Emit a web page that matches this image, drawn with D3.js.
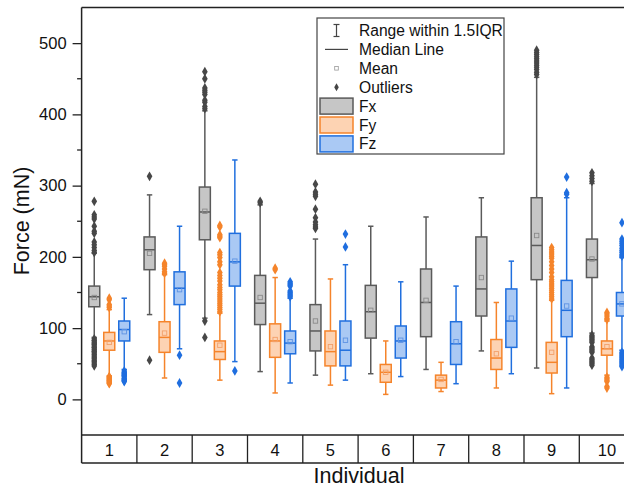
<!DOCTYPE html>
<html>
<head>
<meta charset="utf-8">
<script src="https://cdn.jsdelivr.net/npm/d3@7"></script>
<style>
  body { margin: 0; background: #fff; }
  svg { display: block; font-family: "Liberation Sans", Arial, sans-serif; }
</style>
</head>
<body>
<div id="chart"></div>
<script>
// categories
var individuals = ['1', '2', '3', '4', '5', '6', '7', '8', '9', '10'];
var series = ['Fx', 'Fy', 'Fz'];

// per individual: [whiskerLow, q1, median, q3, whiskerHigh, mean]
var fxStats = [
  [87, 130, 144, 159, 205, 143],
  [119, 182, 210, 228, 287, 205],
  [114, 224, 263, 298, 405, 264],
  [39, 105, 135, 174, 273, 143],
  [34, 68, 96, 133, 225, 110],
  [36, 86, 123, 160, 243, 125],
  [42, 88, 136, 183, 256, 139],
  [68, 117, 155, 228, 283, 171],
  [44, 168, 216, 283, 452, 230],
  [93, 171, 196, 225, 303, 197]
];
var fyStats = [
  [33, 69, 82, 94, 126, 80],
  [30, 66, 87, 109, 175, 93],
  [27, 56, 67, 82, 121, 76],
  [9, 59, 82, 106, 171, 84],
  [20, 47, 67, 96, 169, 74],
  [7, 24, 38, 49, 82, 38],
  [11, 16, 27, 34, 52, 28],
  [16, 42, 58, 84, 136, 64],
  [8, 37, 52, 80, 139, 66],
  [34, 62, 71, 82, 110, 74]
];
var fzStats = [
  [42, 82, 98, 110, 142, 95],
  [71, 133, 156, 179, 243, 154],
  [53, 159, 193, 233, 336, 194],
  [23, 64, 79, 96, 142, 81],
  [27, 47, 69, 110, 189, 83],
  [32, 58, 82, 103, 165, 83],
  [22, 49, 78, 109, 159, 81],
  [36, 73, 110, 155, 194, 114],
  [16, 88, 125, 167, 283, 131],
  [69, 117, 134, 150, 199, 134]
];

// outliers per individual
var fxOutliers = [
  [278, 259, 256, 253, 243, 236, 233, 221, 217, 213, 209, 206,
   85, 83, 82, 80, 78, 77, 75, 73, 72, 70, 68, 67, 65, 63, 61, 59, 57, 55, 53, 51, 49, 47],
  [313, 55],
  [460, 450, 437, 434, 431, 428, 420, 417, 411, 408, 110, 87],
  [278, 276],
  [302, 291, 288, 285, 267, 255, 249, 245, 242, 240],
  [],
  [],
  [],
  [490, 487, 484, 481, 478, 475, 472, 469, 466, 463, 459, 456],
  [318, 314, 310, 306, 90, 88, 86, 84, 82, 80, 74, 72, 70, 68, 66, 58, 56, 54, 52, 50, 48]
];
var fyOutliers = [
  [142, 140, 133, 131, 129, 32, 31, 30, 29, 28, 27, 26, 25, 24, 23, 22],
  [191, 189, 187, 183, 179, 177],
  [244, 242, 231, 229, 227, 206, 203, 199, 193, 189, 178, 174, 170, 166, 161, 157, 154,
   150, 147, 144, 141, 138, 135, 132, 129, 126, 123],
  [184, 182],
  [],
  [],
  [],
  [],
  [213, 210, 207, 204, 201, 198, 193, 188, 183, 178, 172, 168, 165, 162, 159, 156, 153,
   150, 147, 144, 141],
  [122, 120, 117, 114, 112, 31, 29, 27, 25, 18, 16]
];
var fzOutliers = [
  [40, 38, 37, 36, 35, 34, 33, 32, 30, 29, 28, 27, 26, 25],
  [62, 23],
  [40],
  [165, 163, 161, 159, 152, 150, 148, 146, 144],
  [232, 214],
  [],
  [],
  [],
  [312, 290, 288],
  [248, 225, 222, 219, 216, 212, 209, 206, 203, 201,
   66, 64, 62, 60, 58, 56, 54, 52, 50, 48, 46]
];

var yTicks = [0, 100, 200, 300, 400, 500];
var yMinorTicks = [50, 150, 250, 350, 450];

var stats = { Fx: fxStats, Fy: fyStats, Fz: fzStats };
var outliers = { Fx: fxOutliers, Fy: fyOutliers, Fz: fzOutliers };
var styles = {
  Fx: { fill: '#c6c6c6', stroke: '#5a5a5a', dot: '#474747', mean: '#8a8a8a' },
  Fy: { fill: '#fdd3b3', stroke: '#f5842b', dot: '#f5842b', mean: '#f3a06a' },
  Fz: { fill: '#aac9f4', stroke: '#206fde', dot: '#1f6edf', mean: '#5e93e3' }
};

var width = 624, height = 487;
var plotLeft = 81.6, plotTop = 7.5, plotBottom = 435, panelBottom = 463;
var bandW = 55.3;
var boxW = 11;

var svg = d3.select('#chart').append('svg')
  .attr('width', width)
  .attr('height', height);

var x = d3.scaleBand()
  .domain(individuals)
  .range([plotLeft, plotLeft + bandW * individuals.length])
  .padding(0);

var offset = d3.scalePoint()
  .domain(series)
  .range([-15, 15]);

var y = d3.scaleLinear()
  .domain([-50, 550])
  .range([plotBottom, plotTop]);

// boxes
var plot = svg.append('g');
series.forEach(function (s) {
  var st = styles[s];
  individuals.forEach(function (ind, i) {
    var d = stats[s][i];
    var cx = x(ind) + x.bandwidth() / 2 + offset(s);
    var g = plot.append('g');

    // whisker lines
    g.append('line')
      .attr('x1', cx).attr('x2', cx)
      .attr('y1', y(d[4])).attr('y2', y(d[3]))
      .attr('stroke', st.stroke).attr('stroke-width', 1.5);
    g.append('line')
      .attr('x1', cx).attr('x2', cx)
      .attr('y1', y(d[1])).attr('y2', y(d[0]))
      .attr('stroke', st.stroke).attr('stroke-width', 1.5);
    // caps
    [d[0], d[4]].forEach(function (v) {
      g.append('line')
        .attr('x1', cx - 2.7).attr('x2', cx + 2.7)
        .attr('y1', y(v)).attr('y2', y(v))
        .attr('stroke', st.stroke).attr('stroke-width', 1.5);
    });

    // outliers
    g.selectAll('path.out')
      .data(outliers[s][i])
      .enter()
      .append('path')
      .attr('class', 'out')
      .attr('d', d3.symbol().type(d3.symbolDiamond).size(28))
      .attr('transform', function (v) {
        return 'translate(' + cx + ',' + y(v) + ')';
      })
      .attr('fill', st.dot);

    // box
    g.append('rect')
      .attr('x', cx - boxW / 2)
      .attr('y', y(d[3]))
      .attr('width', boxW)
      .attr('height', y(d[1]) - y(d[3]))
      .attr('fill', st.fill)
      .attr('stroke', st.stroke)
      .attr('stroke-width', 1.5);

    // median
    g.append('line')
      .attr('x1', cx - boxW / 2).attr('x2', cx + boxW / 2)
      .attr('y1', y(d[2])).attr('y2', y(d[2]))
      .attr('stroke', st.stroke).attr('stroke-width', 1.5);

    // mean
    g.append('rect')
      .attr('x', cx - 2.2)
      .attr('y', y(d[5]) - 2.2)
      .attr('width', 4.4)
      .attr('height', 4.4)
      .attr('fill', 'none')
      .attr('stroke', st.mean)
      .attr('stroke-width', 0.9);
  });
});

// frame
svg.append('line')
  .attr('x1', plotLeft).attr('x2', width)
  .attr('y1', plotTop).attr('y2', plotTop)
  .attr('stroke', '#222').attr('stroke-width', 1.5);
svg.append('line')
  .attr('x1', plotLeft).attr('x2', width)
  .attr('y1', plotBottom).attr('y2', plotBottom)
  .attr('stroke', '#222').attr('stroke-width', 1.5);
svg.append('line')
  .attr('x1', plotLeft).attr('x2', width)
  .attr('y1', panelBottom).attr('y2', panelBottom)
  .attr('stroke', '#222').attr('stroke-width', 1.5);

// y axis
var yAxis = svg.append('g')
  .attr('transform', 'translate(' + plotLeft + ',0)')
  .call(d3.axisLeft(y).tickValues(yTicks).tickSize(9).tickSizeOuter(0).tickPadding(6));
yAxis.select('.domain').remove();
yAxis.selectAll('.tick line').attr('stroke', '#222').attr('stroke-width', 1.3);
yAxis.selectAll('.tick text')
  .attr('font-size', 16.5)
  .attr('font-family', '"Liberation Sans", Arial, sans-serif')
  .attr('fill', '#111');

svg.append('g')
  .selectAll('line')
  .data(yMinorTicks)
  .enter()
  .append('line')
  .attr('x1', plotLeft - 4.5).attr('x2', plotLeft)
  .attr('y1', function (v) { return y(v); })
  .attr('y2', function (v) { return y(v); })
  .attr('stroke', '#222').attr('stroke-width', 1.3);

svg.append('line')
  .attr('x1', plotLeft).attr('x2', plotLeft)
  .attr('y1', plotTop).attr('y2', panelBottom)
  .attr('stroke', '#222').attr('stroke-width', 1.5);

// category panel
var panel = svg.append('g');
panel.selectAll('line')
  .data(individuals.slice(1))
  .enter()
  .append('line')
  .attr('x1', function (d) { return x(d); })
  .attr('x2', function (d) { return x(d); })
  .attr('y1', plotBottom).attr('y2', panelBottom)
  .attr('stroke', '#222').attr('stroke-width', 1.3);
panel.selectAll('text')
  .data(individuals)
  .enter()
  .append('text')
  .attr('x', function (d) { return x(d) + x.bandwidth() / 2; })
  .attr('y', 455.5)
  .attr('text-anchor', 'middle')
  .attr('font-size', 16.5)
  .attr('fill', '#111')
  .text(function (d) { return d; });

// axis titles
svg.append('text')
  .attr('transform', 'translate(29,221) rotate(-90)')
  .attr('text-anchor', 'middle')
  .attr('font-size', 21.5)
  .attr('fill', '#111')
  .text('Force (mN)');
svg.append('text')
  .attr('x', 359)
  .attr('y', 483)
  .attr('text-anchor', 'middle')
  .attr('font-size', 21.5)
  .attr('fill', '#111')
  .text('Individual');

// legend
var lg = svg.append('g');
lg.append('rect')
  .attr('x', 317).attr('y', 18)
  .attr('width', 187).attr('height', 136)
  .attr('fill', '#fff')
  .attr('stroke', '#444').attr('stroke-width', 1.2);

var rowY = function (i) { return 30.5 + i * 18.9; };
var symX = 336.5, textX = 359;

// range symbol
lg.append('line').attr('x1', symX).attr('x2', symX)
  .attr('y1', rowY(0) - 6).attr('y2', rowY(0) + 6)
  .attr('stroke', '#444').attr('stroke-width', 1.2);
[-6, 6].forEach(function (dy) {
  lg.append('line').attr('x1', symX - 3).attr('x2', symX + 3)
    .attr('y1', rowY(0) + dy).attr('y2', rowY(0) + dy)
    .attr('stroke', '#444').attr('stroke-width', 1.2);
});
// median symbol
lg.append('line').attr('x1', 325).attr('x2', 348)
  .attr('y1', rowY(1)).attr('y2', rowY(1))
  .attr('stroke', '#444').attr('stroke-width', 1.2);
// mean symbol
lg.append('rect').attr('x', symX - 1.8).attr('y', rowY(2) - 1.8)
  .attr('width', 3.6).attr('height', 3.6)
  .attr('fill', 'none').attr('stroke', '#999').attr('stroke-width', 0.8);
// outlier symbol
lg.append('path')
  .attr('d', d3.symbol().type(d3.symbolDiamond).size(18))
  .attr('transform', 'translate(' + symX + ',' + rowY(3) + ')')
  .attr('fill', '#444');

series.forEach(function (s, i) {
  lg.append('rect')
    .attr('x', 320).attr('y', rowY(4 + i) - 8)
    .attr('width', 33).attr('height', 16)
    .attr('fill', styles[s].fill)
    .attr('stroke', styles[s].stroke)
    .attr('stroke-width', 1.5);
});

var labels = ['Range within 1.5IQR', 'Median Line', 'Mean', 'Outliers'].concat(series);
lg.selectAll('text')
  .data(labels)
  .enter()
  .append('text')
  .attr('x', textX)
  .attr('y', function (d, i) { return rowY(i) + 5.5; })
  .attr('font-size', 15.6)
  .attr('fill', '#111')
  .text(function (d) { return d; });
</script>
</body>
</html>
